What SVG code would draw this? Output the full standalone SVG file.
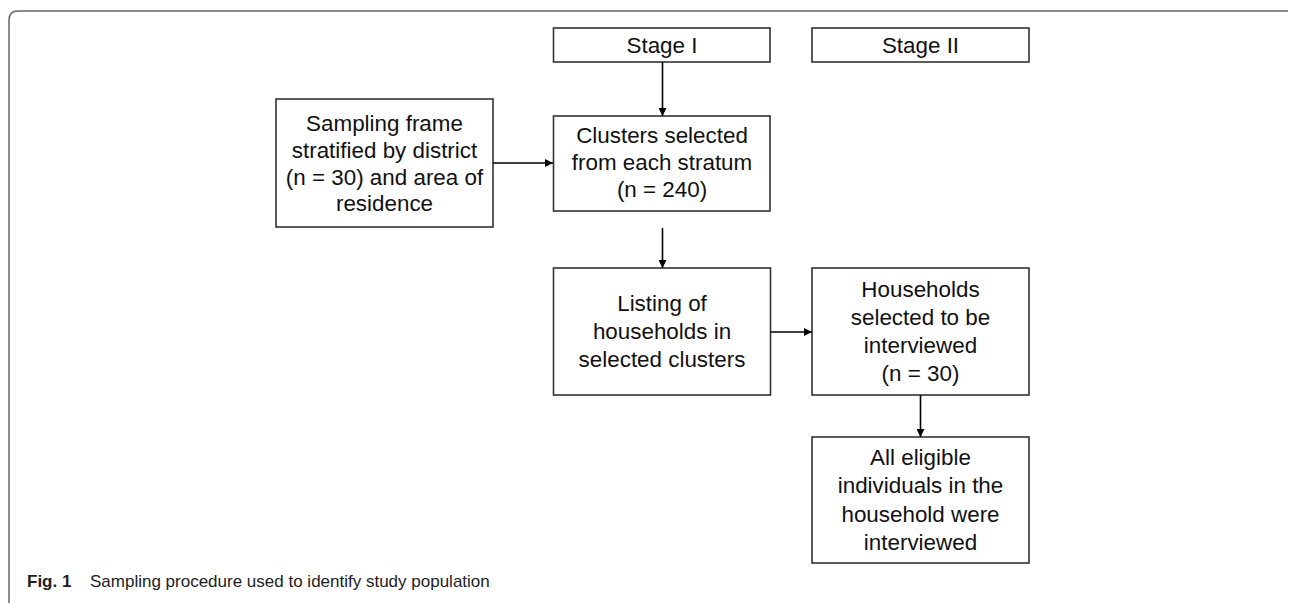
<svg xmlns="http://www.w3.org/2000/svg" width="1290" height="603" viewBox="0 0 1290 603">
<style>
.box{fill:#fff;stroke:#333;stroke-width:1.6}
.t{font-family:"Liberation Sans",Arial,sans-serif;font-size:22.4px;fill:#111;text-anchor:middle}
.c{stroke:#000;stroke-width:1.6;fill:none;marker-end:url(#ah)}
.cap{font-family:"Liberation Sans",Arial,sans-serif;font-size:17px;fill:#222}
</style>
<defs>
<marker id="ah" viewBox="0 0 10 10" refX="10" refY="5" markerWidth="5" markerHeight="5" orient="auto" markerUnits="strokeWidth">
<path d="M0,0 L10,5 L0,10 z" fill="#000"/>
</marker>
</defs>
<rect width="1290" height="603" fill="#fff"/>
<path d="M9,603 L9,20 Q9,11 18,11 L1288,11" fill="none" stroke="#666" stroke-width="1.5"/>

<g id="stage1">
<rect class="box" x="553.5" y="28" width="216.5" height="34"/>
<text class="t" x="662" y="53">Stage I</text>
</g>
<g id="stage2">
<rect class="box" x="812" y="28" width="217" height="34"/>
<text class="t" x="920.5" y="53">Stage II</text>
</g>
<g id="sampling">
<rect class="box" x="276" y="99" width="217" height="128"/>
<text class="t" x="384.5" y="131">Sampling frame</text>
<text class="t" x="384.5" y="158">stratified by district</text>
<text class="t" x="384.5" y="184.5">(n = 30) and area of</text>
<text class="t" x="384.5" y="211">residence</text>
</g>
<g id="clusters">
<rect class="box" x="553.5" y="116" width="216.5" height="95"/>
<text class="t" x="662" y="143">Clusters selected</text>
<text class="t" x="662" y="170">from each stratum</text>
<text class="t" x="662" y="196.5">(n = 240)</text>
</g>
<g id="listing">
<rect class="box" x="553.5" y="268" width="217" height="127"/>
<text class="t" x="662" y="311">Listing of</text>
<text class="t" x="662" y="339">households in</text>
<text class="t" x="662" y="367">selected clusters</text>
</g>
<g id="households">
<rect class="box" x="812" y="268" width="217" height="127"/>
<text class="t" x="920.5" y="297">Households</text>
<text class="t" x="920.5" y="325">selected to be</text>
<text class="t" x="920.5" y="353">interviewed</text>
<text class="t" x="920.5" y="381">(n = 30)</text>
</g>
<g id="eligible">
<rect class="box" x="812" y="437" width="217" height="126"/>
<text class="t" x="920.5" y="465">All eligible</text>
<text class="t" x="920.5" y="493">individuals in the</text>
<text class="t" x="920.5" y="521.5">household were</text>
<text class="t" x="920.5" y="550">interviewed</text>
</g>

<g id="connectors">
<line class="c" x1="662.5" y1="62" x2="662.5" y2="116"/>
<line class="c" x1="493" y1="163" x2="553" y2="163"/>
<line class="c" x1="662.5" y1="228" x2="662.5" y2="268"/>
<line class="c" x1="770.5" y1="332" x2="812" y2="332"/>
<line class="c" x1="920.5" y1="395" x2="920.5" y2="437"/>
</g>

<text class="cap" x="27" y="587"><tspan font-weight="bold">Fig. 1</tspan><tspan x="90">Sampling procedure used to identify study population</tspan></text>
</svg>
